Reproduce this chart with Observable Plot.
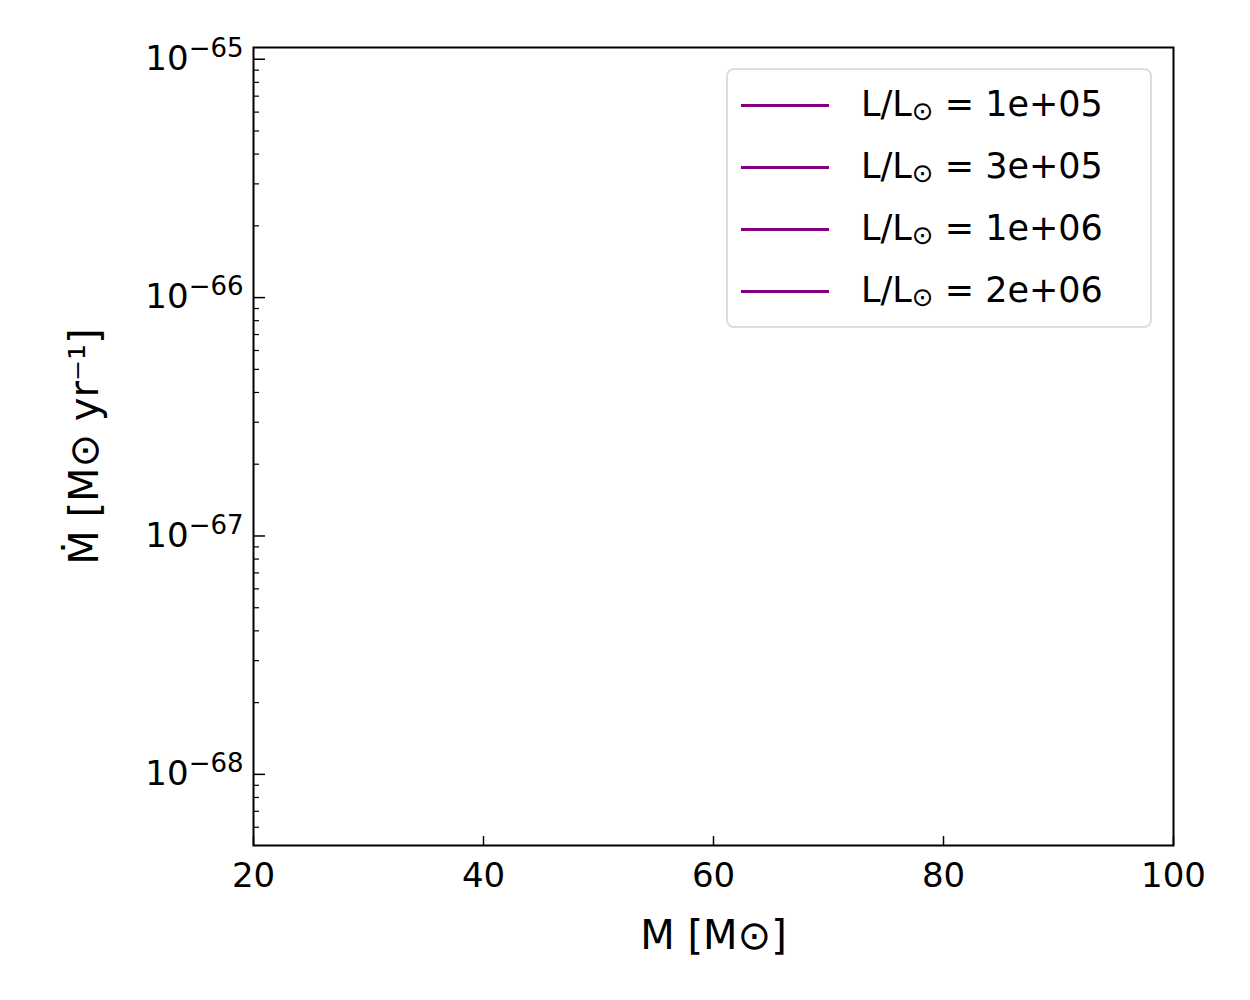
<!DOCTYPE html>
<html>
<head>
<meta charset="utf-8">
<script src="https://cdn.jsdelivr.net/npm/d3@7"></script>
<script src="https://cdn.jsdelivr.net/npm/@observablehq/plot@0.6"></script>
<style>
  body { margin: 0; background: #fff; font-family: "DejaVu Sans", sans-serif; }
  #wrap { position: relative; width: 1250px; height: 1000px; }
  #legend { position: absolute; left: 726px; top: 68px; width: 426px; height: 260px;
    border: 2px solid #ddd; border-radius: 8px; background: rgba(255,255,255,0.8); box-sizing: border-box; }
  .row { position: absolute; left: 0; height: 62px; display: flex; align-items: center; }
  .sw { width: 88px; height: 3px; background: purple; margin-left: 13px; margin-right: 32px; }
  .lab { font-size: 35px; color: #000; white-space: nowrap; }
  .lab sub { font-size: 26px; vertical-align: -4px; }
</style>
</head>
<body>
<div id="wrap"><div id="legend"></div></div>
<script>
const luminosities = ["1e+05", "3e+05", "1e+06", "2e+06"];
const seriesColor = "purple";
const xDomain = [20, 100];
const yDomain = [5.03e-69, 1.12e-65];
const xTicks = [20, 40, 60, 80, 100];
const yMajor = [1e-68, 1e-67, 1e-66, 1e-65];
const yMinor = [];
for (const e of [-69, -68, -67, -66]) for (let k = 2; k <= 9; k++) {
  const v = k * Math.pow(10, e);
  if (v >= yDomain[0] && v <= yDomain[1]) yMinor.push(v);
}

const fmt = v => "10^" + Math.round(Math.log10(v));

const chart = Plot.plot({
  width: 1250, height: 1000,
  marginLeft: 253, marginRight: 77, marginTop: 47, marginBottom: 155,
  style: {fontFamily: "DejaVu Sans", fontSize: "34px", color: "#000", background: "#fff"},
  x: {domain: xDomain},
  y: {type: "log", domain: yDomain},
  marks: [
    Plot.frame({stroke: "#000", strokeWidth: 2}),
    Plot.axisX({ticks: xTicks, tickSize: -9, tickPadding: 26, tickFormat: d => d, label: null, strokeWidth: 1.5}),
    Plot.axisY({ticks: yMajor, tickSize: -12, tickPadding: 22, tickFormat: fmt, label: null, strokeWidth: 1.5}),
    Plot.axisY({ticks: yMinor, tickSize: -6, tickFormat: () => "", label: null, strokeWidth: 1.2}),
    Plot.text([0], {frameAnchor: "bottom", dy: 103, text: () => "M [M\u2299]", fontSize: 40}),
    Plot.text([0], {frameAnchor: "left", dx: -168, rotate: -90, textAnchor: "middle",
      text: () => "\u1E40 [M\u2299 yr\u207B\u00B9]", fontSize: 40})
  ]
});
document.getElementById("wrap").prepend(chart);

// render exponents as raised tspans
d3.select(chart).selectAll("text").each(function () {
  const t = this.textContent;
  const m = /^10\^(-?\d+)$/.exec(t);
  if (m) {
    const s = d3.select(this);
    s.text("10");
    s.append("tspan").attr("dy", "-0.5em").attr("font-size", "26px").text("\u2212" + m[1].replace("-", ""));
  }
});

const legend = document.getElementById("legend");
luminosities.forEach((l, i) => {
  const row = document.createElement("div");
  row.className = "row";
  row.style.top = (4 + i * 62) + "px";
  row.innerHTML = `<div class="sw" style="background:${seriesColor}"></div><div class="lab">L/L<sub>\u2299</sub> = ${l}</div>`;
  legend.appendChild(row);
});
</script>
</body>
</html>
